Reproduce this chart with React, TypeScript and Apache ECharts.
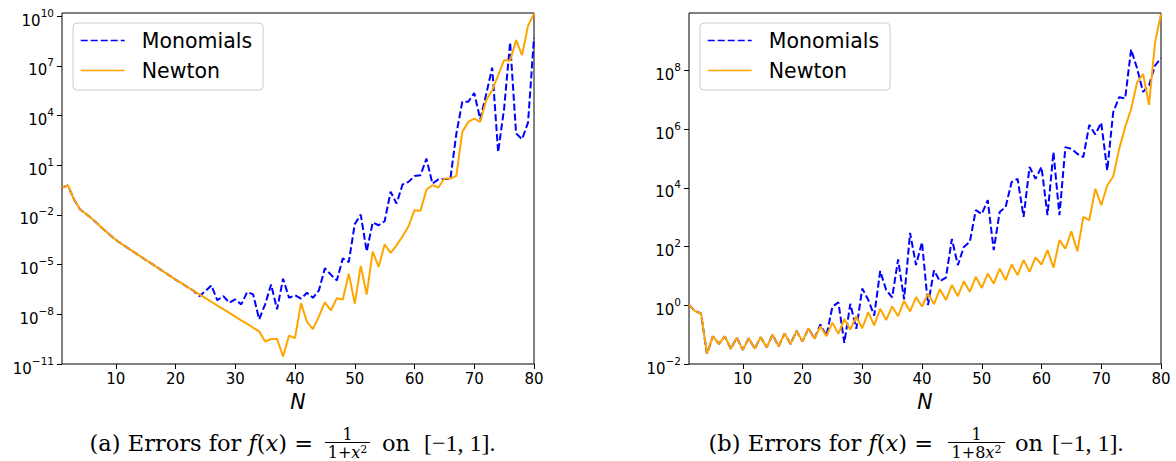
import React, { useEffect, useRef } from 'react';
import * as echarts from 'echarts';

// Polynomial degree N on the horizontal axis of both panels
const nValues: number[] = Array.from({ length: 80 }, (_, i) => i + 1);

// Panel (a): f(x) = 1/(1+x^2), log10 of the max interpolation error
const monomialsLogErrA: number[] = [
  -0.34, -0.22, -1.05, -1.65, -1.93, -2.22, -2.55, -2.88, -3.2, -3.5,
  -3.75, -3.99, -4.23, -4.47, -4.71, -4.94, -5.18, -5.42, -5.66, -5.9,
  -6.12, -6.35, -6.57, -6.9, -6.6, -6.25, -7.15, -6.9, -7.3, -7.1,
  -7.4, -6.65, -6.8, -8.3, -7.4, -6.2, -7.7, -5.85, -7.0, -6.85,
  -7.05, -6.7, -7.0, -6.55, -5.22, -5.6, -5.95, -4.62, -4.85, -2.55,
  -1.98, -4.2, -2.45, -2.62, -2.38, -0.6, -1.31, -0.16, 0.0, 0.35,
  0.4, 1.4, -0.1, 0.15, 0.18, 0.18, 2.9, 4.84, 4.84, 5.37,
  3.78, 5.3, 6.9, 1.8, 4.43, 8.43, 2.93, 2.58, 3.58, 8.7,
];
const newtonLogErrA: number[] = [
  -0.34, -0.22, -1.05, -1.65, -1.93, -2.22, -2.55, -2.88, -3.2, -3.5,
  -3.75, -3.99, -4.23, -4.47, -4.71, -4.94, -5.18, -5.42, -5.66, -5.9,
  -6.12, -6.35, -6.57, -6.8, -7.02, -7.24, -7.47, -7.69, -7.91, -8.14,
  -8.36, -8.58, -8.81, -9.03, -9.64, -9.49, -9.49, -10.54, -9.29, -9.43,
  -7.32, -8.45, -8.89, -8.12, -7.28, -7.77, -7.03, -7.1, -5.54, -7.35,
  -5.08, -6.8, -4.21, -5.14, -3.77, -4.29, -3.83, -3.29, -2.68, -1.71,
  -1.75, -0.46, -0.2, -0.34, 0.2, 0.2, 0.36, 3.02, 3.62, 3.82,
  3.62, 4.93, 5.54, 6.44, 7.36, 7.32, 8.56, 7.66, 9.42, 10.17,
];

// Panel (b): f(x) = 1/(1+8x^2), log10 of the max interpolation error
const monomialsLogErrB: number[] = [
  0.02, -0.2, -0.27, -1.65, -1.06, -1.31, -1.06, -1.48, -1.1, -1.52,
  -1.12, -1.48, -1.09, -1.43, -1.0, -1.4, -0.96, -1.32, -0.87, -1.23,
  -0.78, -1.14, -0.65, -1.04, -0.05, 0.1, -1.28, 0.05, -0.8, 0.57,
  0.19, -0.35, 1.17, 0.52, 0.27, 1.56, 0.2, 2.47, 1.37, 2.15,
  0.01, 1.19, 0.82, 0.94, 2.26, 1.37, 1.99, 2.16, 3.24, 3.11,
  3.58, 1.88, 3.18, 3.35, 4.2, 4.31, 3.01, 4.71, 4.31, 4.71,
  3.07, 5.22, 3.07, 5.39, 5.33, 5.16, 5.05, 6.15, 5.82, 6.22,
  4.6, 6.58, 7.09, 7.05, 8.72, 8.07, 7.27, 7.5, 8.17, 8.42,
];
const newtonLogErrB: number[] = [
  0.02, -0.2, -0.27, -1.65, -1.06, -1.31, -1.06, -1.48, -1.1, -1.52,
  -1.12, -1.48, -1.09, -1.43, -1.0, -1.4, -0.96, -1.32, -0.87, -1.23,
  -0.78, -1.14, -0.72, -1.05, -0.59, -0.97, -0.47, -0.83, -0.38, -0.78,
  -0.24, -0.68, -0.12, -0.5, -0.04, -0.37, 0.15, -0.21, 0.28, -0.04,
  0.4, 0.04, 0.55, 0.18, 0.69, 0.31, 0.82, 0.46, 0.97, 0.59,
  1.08, 0.74, 1.25, 0.86, 1.39, 1.03, 1.54, 1.14, 1.63, 1.39,
  1.88, 1.28, 2.22, 1.93, 2.52, 1.84, 3.01, 2.9, 3.97, 3.41,
  4.08, 4.39, 5.33, 6.07, 6.69, 7.6, 7.88, 6.83, 8.95, 9.93,
];

// Axis ticks
const xTickValues: number[] = [10, 20, 30, 40, 50, 60, 70, 80];
const yTickExponentsA: number[] = [-11, -8, -5, -2, 1, 4, 7, 10];
const yTickExponentsB: number[] = [-2, 0, 2, 4, 6, 8];

const seriesNames = ['Monomials', 'Newton'];

const SANS = 'DejaVu Sans';
const SERIF = 'DejaVu Serif';
const NARROW_SERIF = 'Liberation Serif';
const BLUE = '#0000ff';
const ORANGE = '#ffa500';
const MINUS = '\u2212';

const toPairs = (ys: number[]) => nValues.map((n, i) => [n, ys[i]]);

const powerOfTen = (v: number) =>
  `{b|10}{s|${v < 0 ? MINUS + Math.abs(v) : String(v)}}`;

const makeXAxis = (gridIndex: number) => ({
  type: 'value',
  gridIndex,
  min: 1,
  max: 80,
  name: 'N',
  nameLocation: 'middle',
  nameGap: 28,
  nameTextStyle: {
    fontFamily: SANS,
    fontStyle: 'italic',
    fontSize: 20.5,
    color: '#000',
  },
  axisLine: { show: false, onZero: false },
  axisTick: {
    show: true,
    length: 5,
    customValues: xTickValues,
    lineStyle: { color: '#000', width: 1 },
  },
  axisLabel: {
    customValues: xTickValues,
    margin: 7,
    fontFamily: SANS,
    fontSize: 15,
    color: '#000',
  },
  splitLine: { show: false },
});

const makeYAxis = (gridIndex: number, minExp: number, maxExp: number, ticks: number[]) => ({
  type: 'value',
  gridIndex,
  min: minExp,
  max: maxExp,
  axisLine: { show: false, onZero: false },
  axisTick: {
    show: true,
    length: 5,
    customValues: ticks,
    lineStyle: { color: '#000', width: 1 },
  },
  axisLabel: {
    customValues: ticks,
    margin: 8,
    padding: [3, 0, 0, 0],
    formatter: powerOfTen,
    rich: {
      b: { fontFamily: SANS, fontSize: 15, color: '#000', lineHeight: 21, verticalAlign: 'bottom' },
      s: { fontFamily: SANS, fontSize: 10.5, color: '#000', lineHeight: 10.5, verticalAlign: 'top' },
    },
  },
  splitLine: { show: false },
});

const makeLegend = (left: number) => ({
  orient: 'vertical',
  left,
  top: 23,
  padding: [7, 11, 9, 7],
  itemGap: 9,
  itemWidth: 44,
  itemHeight: 14,
  data: seriesNames,
  selectedMode: false,
  backgroundColor: 'rgba(255,255,255,0.8)',
  borderColor: '#cccccc',
  borderWidth: 1,
  borderRadius: 4,
  itemStyle: { opacity: 0 },
  lineStyle: { width: 1.5 },
  textStyle: {
    fontFamily: SANS,
    fontSize: 20.5,
    lineHeight: 21,
    color: '#000',
    padding: [0, 0, 0, 12],
  },
});

const makeSeries = (axisIndex: number, mono: number[], newton: number[]) => [
  {
    name: seriesNames[0],
    type: 'line',
    xAxisIndex: axisIndex,
    yAxisIndex: axisIndex,
    data: toPairs(mono),
    symbol: 'none',
    silent: true,
    z: 2,
    itemStyle: { color: BLUE },
    lineStyle: { color: BLUE, width: 2, type: [7, 3] },
    emphasis: { disabled: true },
  },
  {
    name: seriesNames[1],
    type: 'line',
    xAxisIndex: axisIndex,
    yAxisIndex: axisIndex,
    data: toPairs(newton),
    symbol: 'none',
    silent: true,
    z: 3,
    itemStyle: { color: ORANGE },
    lineStyle: { color: ORANGE, width: 2 },
    emphasis: { disabled: true },
  },
];

const captionText = (x: number, y: number, text: string, fontSize: number, align: string, fontFamily = SERIF, rich?: object) => ({
  type: 'text',
  x,
  y,
  silent: true,
  style: {
    text,
    fontFamily,
    fontSize,
    fill: '#000',
    align,
    verticalAlign: 'middle',
    ...(rich ? { rich } : {}),
  },
});

// Caption "(x) Errors for f(x) = 1/denominator on [-1, 1]." built from text pieces and a fraction bar
const makeCaption = (
  label: string,
  eqRight: number,
  barLeft: number,
  barRight: number,
  denominator: string,
  onLeft: number,
  intervalLeft: number,
) => {
  const mid = (barLeft + barRight) / 2;
  return [
    captionText(eqRight, 443, `(${label}) Errors for {i|f}({i|x}) =`, 22.5, 'right', SERIF, {
      i: { fontFamily: SERIF, fontStyle: 'italic', fontSize: 22.5 },
    }),
    {
      type: 'line',
      silent: true,
      shape: { x1: barLeft, y1: 442.5, x2: barRight, y2: 442.5 },
      style: { stroke: '#000', lineWidth: 1 },
    },
    captionText(mid, 434.5, '1', 16, 'center'),
    captionText(mid, 452, denominator, 16, 'center', SERIF, {
      i: { fontFamily: SERIF, fontStyle: 'italic', fontSize: 16 },
      s: { fontFamily: SERIF, fontSize: 11, lineHeight: 11, verticalAlign: 'top' },
    }),
    captionText(onLeft, 443, 'on', 22.5, 'left'),
    captionText(intervalLeft, 443, `[${MINUS}1, 1].`, 24, 'left', NARROW_SERIF),
  ];
};

export default function App() {
  const ref = useRef<HTMLDivElement>(null);

  useEffect(() => {
    if (!ref.current) return;
    const chart = echarts.init(ref.current, null, { renderer: 'svg' });
    chart.setOption({
      animation: false,
      backgroundColor: '#ffffff',
      grid: [
        { left: 62, top: 13, width: 472, height: 351, show: true, borderColor: '#000', borderWidth: 1, backgroundColor: 'transparent' },
        { left: 689, top: 13, width: 472, height: 351, show: true, borderColor: '#000', borderWidth: 1, backgroundColor: 'transparent' },
      ],
      xAxis: [makeXAxis(0), makeXAxis(1)],
      yAxis: [
        makeYAxis(0, -11, 10.2, yTickExponentsA),
        makeYAxis(1, -2, 9.96, yTickExponentsB),
      ],
      legend: [makeLegend(73), makeLegend(700)],
      series: [
        ...makeSeries(0, monomialsLogErrA, newtonLogErrA),
        ...makeSeries(1, monomialsLogErrB, newtonLogErrB),
      ],
      graphic: {
        elements: [
          ...makeCaption('a', 313, 325, 370, '1+{i|x}{s|2}', 382, 424),
          ...makeCaption('b', 933, 948, 1005, '1+8{i|x}{s|2}', 1015, 1052),
        ],
      },
    });
    return () => chart.dispose();
  }, []);

  return (
    <div
      ref={ref}
      style={{ position: 'fixed', left: 0, top: 0, width: 1176, height: 461, background: '#fff' }}
    />
  );
}
